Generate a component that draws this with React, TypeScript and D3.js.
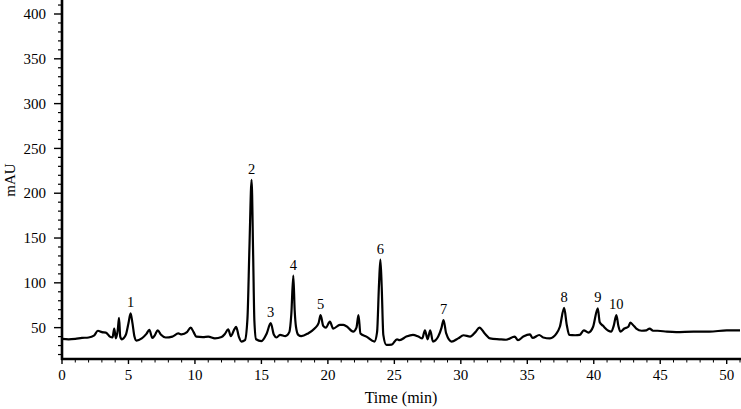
import React, { useRef, useEffect } from "react";
import * as d3 from "d3";

// chromatogram trace: retention time (min) / absorbance (mAU)
const times = [
  0, 0.5, 1.0, 1.5, 2.0, 2.4, 2.7, 3.0, 3.3, 3.6, 3.8, 3.93, 4.05, 4.2, 4.29, 4.38, 4.5, 4.8, 5.0, 5.16,
  5.3, 5.45, 5.6, 6.0, 6.35, 6.57, 6.8, 7.0, 7.2, 7.45, 7.8, 8.3, 8.75, 9.0, 9.4, 9.68, 9.9, 10.1, 10.6, 11.0,
  11.5, 12.0, 12.25, 12.5, 12.7, 12.96, 13.1, 13.3, 13.5, 13.76, 13.95, 14.1, 14.26, 14.38, 14.47, 14.6, 15.0, 15.4, 15.7, 15.94,
  16.14, 16.4, 16.8, 17.1, 17.25, 17.4, 17.5, 17.6, 17.77, 18.0, 18.5, 19.0, 19.3, 19.45, 19.65, 19.85, 20.15, 20.4, 20.9, 21.15,
  21.4, 21.9, 22.15, 22.3, 22.45, 22.9, 23.5, 23.7, 23.85, 23.95, 24.05, 24.17, 24.4, 24.8, 25.2, 25.4, 25.9, 26.4, 26.8, 27.1,
  27.3, 27.5, 27.7, 27.9, 28.3, 28.55, 28.7, 28.9, 29.3, 29.8, 30.2, 30.7, 31.1, 31.4, 31.8, 32.2, 32.9, 33.4, 34.05, 34.3,
  34.7, 35.2, 35.4, 35.9, 36.2, 36.7, 37.2, 37.45, 37.77, 37.97, 38.15, 38.6, 38.95, 39.25, 39.6, 39.95, 40.3, 40.45, 40.7, 41.1,
  41.3, 41.5, 41.7, 41.85, 42.0, 42.3, 42.6, 42.75, 42.95, 43.2, 43.6, 43.96, 44.2, 44.46, 44.8, 45.5, 46.2, 47.5, 48.7, 50.0,
  51.0,
];
const mAU = [
  37.5, 37, 37.5, 38.5, 39, 41, 46.5, 45, 44.5, 40, 39, 49, 38, 48, 61, 40, 37, 42, 55, 66,
  55, 40, 35.5, 38, 43, 47.5, 38.5, 42, 47, 42, 39, 40, 43.5, 42.5, 45, 50, 45, 40, 39.5, 40,
  38, 39.5, 43, 48, 40.5, 48, 51, 40, 34.5, 36, 60, 140, 215, 130, 58, 37, 35, 43.5, 55, 42,
  39, 42, 40.5, 45, 65, 108, 70, 51, 42, 40.5, 43.5, 49, 55, 64, 52, 50, 56.7, 49, 53, 53,
  51.5, 45.5, 50, 64, 43.5, 40, 34.5, 45, 100, 126, 95, 42, 30.7, 31, 37, 36, 40, 42, 40, 38,
  47, 37, 47, 34.5, 40, 50, 58.5, 43.5, 34.5, 38, 41.5, 40, 45, 50, 43.5, 38, 37, 36.5, 40, 36,
  40, 42.5, 38.5, 41.8, 39, 38, 43.5, 51, 72, 53, 42, 41.5, 42, 47, 44.5, 51, 71.5, 56, 52, 46.5,
  45.5, 52, 64, 52, 45.5, 49, 51, 55.5, 53, 49, 46.5, 47, 49, 46.5, 46.5, 45.5, 45, 45.5, 45.5, 47,
  47,
];

// numbered peaks
const peakLabels = ["1", "2", "3", "4", "5", "6", "7", "8", "9", "10"];
const peakTimes = [5.16, 14.26, 15.7, 17.4, 19.45, 23.95, 28.7, 37.77, 40.3, 41.7];
const peakValues = [66, 215, 55, 108, 64, 126, 58.5, 72, 71.5, 64];

const yTicks = [50, 100, 150, 200, 250, 300, 350, 400];
const xTicks = [0, 5, 10, 15, 20, 25, 30, 35, 40, 45, 50];

const width = 741;
const height = 409;
const font = "'Liberation Serif', 'Times New Roman', serif";

export default function App() {
  const svgRef = useRef<SVGSVGElement>(null);

  useEffect(() => {
    const svg = d3.select(svgRef.current);
    svg.selectAll("*").remove();

    const x = d3.scaleLinear().domain([0, 51]).range([62, 740]);
    const y = d3.scaleLinear().domain([15, 400]).range([359, 14]);

    const data = times.map((t, i) => [t, mAU[i]] as [number, number]);

    // trace
    const line = d3
      .line<[number, number]>()
      .x((d) => x(d[0]))
      .y((d) => y(d[1]))
      .curve(d3.curveMonotoneX);

    svg
      .append("path")
      .datum(data)
      .attr("fill", "none")
      .attr("stroke", "#000")
      .attr("stroke-width", 2.2)
      .attr("stroke-linejoin", "round")
      .attr("d", line);

    // peak numbers
    svg
      .append("g")
      .selectAll("text")
      .data(peakLabels)
      .join("text")
      .attr("x", (d, i) => x(peakTimes[i]))
      .attr("y", (d, i) => y(peakValues[i]) - 6)
      .attr("text-anchor", "middle")
      .attr("font-family", font)
      .attr("font-size", 14.5)
      .text((d) => d);

    // y axis
    const yMinor = d3.range(20, 416, 10).filter((v) => v % 50 !== 0);
    const yAxis = svg.append("g").attr("transform", "translate(62,0)");
    yAxis
      .selectAll("line.minor")
      .data(yMinor)
      .join("line")
      .attr("class", "minor")
      .attr("x1", -4)
      .attr("x2", 0)
      .attr("y1", (d) => y(d))
      .attr("y2", (d) => y(d))
      .attr("stroke", "#000")
      .attr("stroke-width", 1.2);
    yAxis
      .selectAll("line.major")
      .data(yTicks)
      .join("line")
      .attr("class", "major")
      .attr("x1", -8)
      .attr("x2", 0)
      .attr("y1", (d) => y(d))
      .attr("y2", (d) => y(d))
      .attr("stroke", "#000")
      .attr("stroke-width", 1.4);
    yAxis
      .selectAll("text")
      .data(yTicks)
      .join("text")
      .attr("x", -16)
      .attr("y", (d) => y(d))
      .attr("dy", "0.35em")
      .attr("text-anchor", "end")
      .attr("font-family", font)
      .attr("font-size", 15)
      .text((d) => d);
    yAxis
      .append("line")
      .attr("x1", 0)
      .attr("x2", 0)
      .attr("y1", 0)
      .attr("y2", 360)
      .attr("stroke", "#000")
      .attr("stroke-width", 2.6);

    // x axis
    const xMinor = d3.range(1, 52, 1).filter((v) => v % 5 !== 0);
    const xAxis = svg.append("g").attr("transform", "translate(0,359)");
    xAxis
      .selectAll("line.minor")
      .data(xMinor)
      .join("line")
      .attr("class", "minor")
      .attr("x1", (d) => x(d))
      .attr("x2", (d) => x(d))
      .attr("y1", 0)
      .attr("y2", 3.5)
      .attr("stroke", "#000")
      .attr("stroke-width", 1);
    xAxis
      .selectAll("line.major")
      .data(xTicks)
      .join("line")
      .attr("class", "major")
      .attr("x1", (d) => x(d))
      .attr("x2", (d) => x(d))
      .attr("y1", 0)
      .attr("y2", 5)
      .attr("stroke", "#000")
      .attr("stroke-width", 1.4);
    xAxis
      .selectAll("text")
      .data(xTicks)
      .join("text")
      .attr("x", (d) => x(d))
      .attr("y", 10)
      .attr("dy", "0.71em")
      .attr("text-anchor", "middle")
      .attr("font-family", font)
      .attr("font-size", 15)
      .text((d) => d);
    xAxis
      .append("line")
      .attr("x1", 61)
      .attr("x2", width)
      .attr("y1", 0)
      .attr("y2", 0)
      .attr("stroke", "#000")
      .attr("stroke-width", 2.6);

    // titles
    svg
      .append("text")
      .attr("x", x(25.5))
      .attr("y", 403)
      .attr("text-anchor", "middle")
      .attr("font-family", font)
      .attr("font-size", 16)
      .text("Time (min)");
    svg
      .append("text")
      .attr("transform", "translate(15,180) rotate(-90)")
      .attr("text-anchor", "middle")
      .attr("font-family", font)
      .attr("font-size", 15)
      .text("mAU");
  }, []);

  return (
    <svg
      ref={svgRef}
      width={width}
      height={height}
      style={{ position: "absolute", left: 0, top: 0, background: "#fff" }}
    />
  );
}
